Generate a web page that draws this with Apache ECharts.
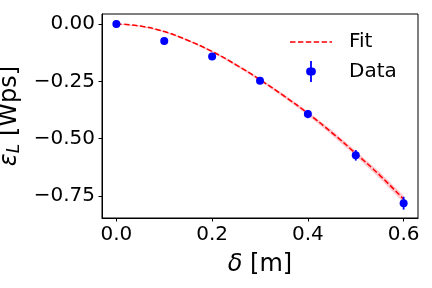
<!DOCTYPE html>
<html>
<head>
<meta charset="utf-8">
<script src="https://cdn.jsdelivr.net/npm/echarts@6/dist/echarts.min.js"></script>
<style>html,body{margin:0;padding:0;background:#fff}#c{width:432px;height:288px}</style>
</head>
<body>
<div id="c"></div>
<script>
// Data
var dataX = [0.0, 0.1, 0.2, 0.3, 0.4, 0.5, 0.6];
var dataY = [0.0, -0.074, -0.142, -0.248, -0.393, -0.573, -0.782];
var dataErr = [0.004, 0.008, 0.010, 0.012, 0.018, 0.023, 0.028];

var fitX = [0, 0.05, 0.1, 0.15, 0.2, 0.25, 0.3, 0.35, 0.4, 0.45, 0.5, 0.55, 0.6];
var fitY = [0, -0.009, -0.033, -0.072, -0.120, -0.178, -0.243, -0.314, -0.390, -0.474, -0.565, -0.660, -0.765];
var fitBand = [0.001, 0.001, 0.002, 0.002, 0.003, 0.004, 0.005, 0.006, 0.007, 0.009, 0.010, 0.012, 0.014];

var xTicks = [0.0, 0.2, 0.4, 0.6];
var yTicks = [0.0, -0.25, -0.5, -0.75];

var FONT = 'DejaVu Sans';
var fitPts = fitX.map(function (x, i) { return [x, fitY[i]]; });
var bandSegs = [];
for (var i = 0; i < fitX.length - 1; i++) {
  bandSegs.push([fitX[i], fitY[i] - fitBand[i], fitY[i] + fitBand[i],
                 fitX[i + 1], fitY[i + 1] - fitBand[i + 1], fitY[i + 1] + fitBand[i + 1]]);
}
var dataPts = dataX.map(function (x, i) { return [x, dataY[i]]; });
var errPts = dataX.map(function (x, i) { return [x, dataY[i], dataErr[i]]; });

// legend icons
var dashIcon = 'path://M0,0 L5.5,0 L5.5,1.5 L0,1.5 Z M7.9,0 L13.4,0 L13.4,1.5 L7.9,1.5 Z M15.8,0 L21.3,0 L21.3,1.5 L15.8,1.5 Z M23.7,0 L29.2,0 L29.2,1.5 L23.7,1.5 Z M31.6,0 L37.1,0 L37.1,1.5 L31.6,1.5 Z M39.5,0 L42,0 L42,1.5 L39.5,1.5 Z';
var dataIcon = 'path://M3.1,0 L4.9,0 L4.9,6.5 A4,4 0 0 1 4.9,14.5 L4.9,21 L3.1,21 L3.1,14.5 A4,4 0 0 1 3.1,6.5 Z';

var chart = echarts.init(document.getElementById('c'), null, {renderer: 'canvas'});
chart.setOption({
  animation: false,
  backgroundColor: '#fff',
  grid: {left: 102, right: 14, top: 14, bottom: 70, show: true, borderColor: '#000', borderWidth: 1,
    backgroundColor: 'transparent', containLabel: false, outerBoundsMode: 'none'},
  legend: {
    data: [{name: 'Fit', icon: dashIcon}, {name: 'Data', icon: dataIcon}],
    orient: 'vertical',
    left: 290, top: 32,
    padding: 0,
    itemWidth: 42, itemHeight: 21, itemGap: 9,
    textStyle: {fontFamily: FONT, fontSize: 20, color: '#000', padding: [3, 0, 0, 12]}
  },
  xAxis: {
    type: 'value', min: -0.03, max: 0.63,
    name: '{i|δ}{n| [m]}', nameLocation: 'middle', nameGap: 35,
    nameTextStyle: {rich: {i: {fontFamily: FONT, fontSize: 24, fontStyle: 'italic', color: '#000'}, n: {fontFamily: FONT, fontSize: 24, color: '#000'}}},
    axisLine: {onZero: false, lineStyle: {color: '#000', width: 1}},
    axisTick: {show: true, length: 3.5, lineStyle: {color: '#000', width: 1}, customValues: xTicks},
    axisLabel: {fontFamily: FONT, fontSize: 20, color: '#000', margin: 7, customValues: xTicks,
      formatter: function (v) { return v.toFixed(1); }},
    splitLine: {show: false}
  },
  yAxis: {
    type: 'value', min: -0.8466, max: 0.0437,
    name: '{i|ε}{s|L}{n| [Wps]}', nameLocation: 'middle', nameGap: 76,
    nameTextStyle: {rich: {
      i: {fontFamily: FONT, fontSize: 24, fontStyle: 'italic', color: '#000'},
      s: {fontFamily: FONT, fontSize: 17, fontStyle: 'italic', color: '#000', verticalAlign: 'bottom', padding: [10, 0, 0, 0]},
      n: {fontFamily: FONT, fontSize: 24, color: '#000'}}},
    axisLine: {onZero: false, lineStyle: {color: '#000', width: 1}},
    axisTick: {show: true, length: 3.5, lineStyle: {color: '#000', width: 1}, customValues: yTicks},
    axisLabel: {fontFamily: FONT, fontSize: 20, color: '#000', margin: 7, customValues: yTicks, padding: [4, 0, 0, 0],
      formatter: function (v) { return v.toFixed(2).replace('-', '\u2212'); }},
    splitLine: {show: false}
  },
  series: [
    {name: 'band', type: 'custom', data: bandSegs, silent: true, z: 1,
      renderItem: function (params, api) {
        var a = api.coord([api.value(0), api.value(1)]);
        var b = api.coord([api.value(3), api.value(4)]);
        var c = api.coord([api.value(3), api.value(5)]);
        var d = api.coord([api.value(0), api.value(2)]);
        return {type: 'polygon', shape: {points: [a, b, c, d]},
          style: {fill: 'rgba(255,100,120,0.35)', stroke: 'rgba(255,100,120,0.35)', lineWidth: 0.5}};
      }},
    {name: 'Fit', type: 'line', data: fitPts, symbol: 'none', showSymbol: false, smooth: true,
      lineStyle: {color: '#ff0000', width: 1.5, type: [5.5, 2.4]}, itemStyle: {color: '#ff0000'}, z: 2},
    {name: 'err', type: 'custom', data: errPts, z: 3,
      renderItem: function (params, api) {
        var x = api.value(0), y = api.value(1), e = api.value(2);
        var p1 = api.coord([x, y - e]), p2 = api.coord([x, y + e]);
        return {type: 'line', shape: {x1: p1[0], y1: p1[1], x2: p2[0], y2: p2[1]},
          style: {stroke: '#0000ff', lineWidth: 1.8}};
      }},
    {name: 'Data', type: 'scatter', data: dataPts, symbol: 'circle', symbolSize: 8,
      itemStyle: {color: '#0000ff', opacity: 1}, z: 4}
  ]
});
</script>
</body>
</html>
